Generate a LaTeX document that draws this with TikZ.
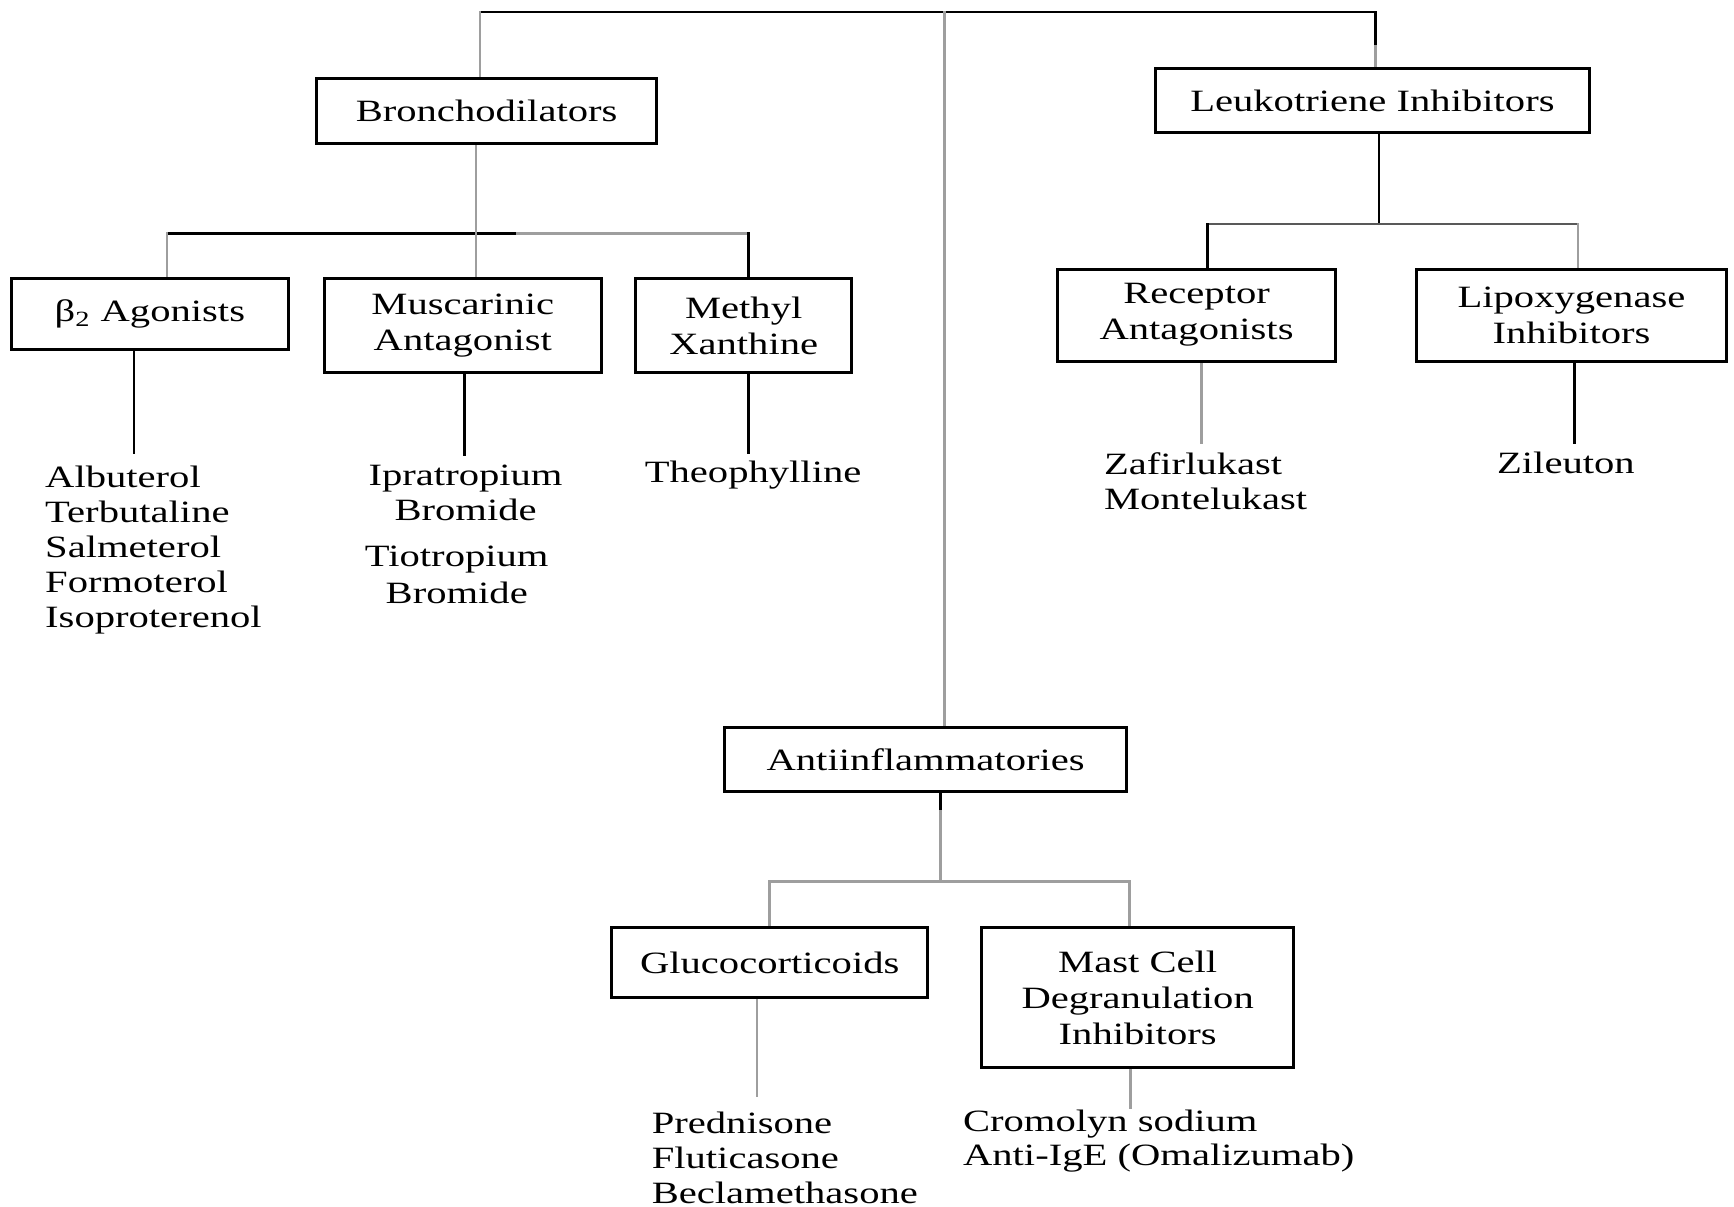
\documentclass[tikz,border=0pt]{standalone}
\usepackage{fontspec}
\setmainfont{Liberation Serif}[FakeStretch=1.31]
\usetikzlibrary{backgrounds}
\def\px{0.55295pt}
\newcommand\boxfont{\fontsize{15.5}{18}\selectfont}
\newcommand\listfont{\fontsize{15.5}{17.5}\selectfont}
\begin{document}
\begin{tikzpicture}[x=\px, y=-\px,
  box/.style={draw=black, line width=1.5pt, inner sep=0pt, align=center, font=\boxfont},
  lst/.style={inner sep=0pt, font=\listfont},
  dk/.style={draw=black, line width=1.3pt, line cap=rect},
  md/.style={draw=black!65, line width=1.35pt, line cap=rect},
  lt/.style={draw=black!38, line width=1.4pt, line cap=rect}]
\useasboundingbox (0,0) rectangle (1568,1091);

% category boxes
\node[box, minimum width=308*\px, minimum height=59*\px] (bron) at (440,100.5) {Bronchodilators};
\node[box, minimum width=392*\px, minimum height=58*\px] (leuk) at (1241,91) {Leukotriene Inhibitors};
\node[box, minimum width=364*\px, minimum height=58*\px] (anti) at (837,687) {Antiinflammatories};

% drug class boxes
\node[box, minimum width=251*\px, minimum height=64*\px] (beta) at (135.5,284) {β\textsubscript{2} Agonists};
\node[box, minimum width=251*\px, minimum height=85*\px] (musc) at (418.5,294.5) {Muscarinic\\Antagonist};
\node[box, minimum width=195*\px, minimum height=85*\px] (meth) at (672.5,294.5) {Methyl\\Xanthine};
\node[box, minimum width=252*\px, minimum height=83.5*\px] (recp) at (1082,285) {Receptor\\Antagonists};
\node[box, minimum width=280*\px, minimum height=83.5*\px] (lipo) at (1421,285) {Lipoxygenase\\Inhibitors};
\node[box, minimum width=286*\px, minimum height=63*\px] (gluc) at (696,870.5) {Glucocorticoids};
\node[box, minimum width=282.5*\px, minimum height=126.5*\px] (mast) at (1028.75,902.25) {Mast Cell\\Degranulation\\Inhibitors};

% drug lists (the base anchor sits on the last line)
\node[lst, anchor=base west, align=left] (betal) at (40.5,567) {Albuterol\\Terbutaline\\Salmeterol\\Formoterol\\Isoproterenol};
\node[lst, anchor=base, align=center] (ipra) at (421,471) {Ipratropium\\Bromide};
\node[lst, anchor=base, align=center, font=\fontsize{15.5}{18.8}\selectfont] (tio) at (413,546) {Tiotropium\\Bromide};
\node[lst, anchor=base] (theo) at (681,436) {Theophylline};
\node[lst, anchor=base west, align=left] (zafi) at (998,460.5) {Zafirlukast\\Montelukast};
\node[lst, anchor=base] (zile) at (1416,428) {Zileuton};
\node[lst, anchor=base west, align=left] (pred) at (589,1088) {Prednisone\\Fluticasone\\Beclamethasone};
\node[lst, anchor=base west, align=left, font=\fontsize{15.5}{17}\selectfont] (crom) at (870.5,1053.5) {Cromolyn sodium\\Anti-IgE (Omalizumab)};

% junction points and free ends
\coordinate (tL) at (434,11);
\coordinate (tC) at (854,11);
\coordinate (tR) at (1244,11);
\coordinate (bJ) at (430.5,211);
\coordinate (bL) at (151,211);
\coordinate (bM) at (467.5,211);
\coordinate (bR) at (677,211);
\coordinate (lJ) at (1247,202.6);
\coordinate (lL) at (1092,202.6);
\coordinate (lR) at (1427,202.6);
\coordinate (aJ) at (850.5,797);
\coordinate (aL) at (696,797);
\coordinate (aR) at (1021,797);
\coordinate (betaE) at (121,409);
\coordinate (muscE) at (420,411);
\coordinate (methE) at (677,409);
\coordinate (recpE) at (1086.5,400);
\coordinate (lipoE) at (1423.5,400);
\coordinate (glucE) at (684.5,991);
\coordinate (mastE) at (1022,1002);

\begin{scope}[on background layer]
  % top level
  \draw[dk] (tL) -- (tR);
  \draw[lt] (tL) -- (tL |- bron.north);
  \draw[dk] (tR) -- ++(0,31) coordinate (tRm);
  \draw[lt] (tRm) -- (tRm |- leuk.north);
  \draw[lt] (tC) -- (tC |- anti.north);
  % bronchodilators
  \draw[lt] (bJ |- bron.south) -- (bJ);
  \draw[dk] (bL) -- (bM);
  \draw[lt] (bM) -- (bR);
  \draw[lt] (bL) -- (bL |- beta.north);
  \draw[lt] (bJ) -- (bJ |- musc.north);
  \draw[dk] (bR) -- (bR |- meth.north);
  \draw[dk] (betaE |- beta.south) -- (betaE);
  \draw[dk] (muscE |- musc.south) -- (muscE);
  \draw[dk] (methE |- meth.south) -- (methE);
  % leukotriene inhibitors
  \draw[dk] (lJ |- leuk.south) -- (lJ);
  \draw[md] (lL) -- (lR);
  \draw[dk] (lL) -- (lL |- recp.north);
  \draw[lt] (lR) -- (lR |- lipo.north);
  \draw[lt] (recpE |- recp.south) -- (recpE);
  \draw[dk] (lipoE |- lipo.south) -- (lipoE);
  % antiinflammatories
  \draw[dk] (aJ |- anti.south) -- ++(0,16) coordinate (aJm);
  \draw[lt] (aJm) -- (aJ);
  \draw[lt] (aL) -- (aR);
  \draw[lt] (aL) -- (aL |- gluc.north);
  \draw[lt] (aR) -- (aR |- mast.north);
  \draw[lt] (glucE |- gluc.south) -- (glucE);
  \draw[lt] (mastE |- mast.south) -- (mastE);
\end{scope}
\end{tikzpicture}
\end{document}
